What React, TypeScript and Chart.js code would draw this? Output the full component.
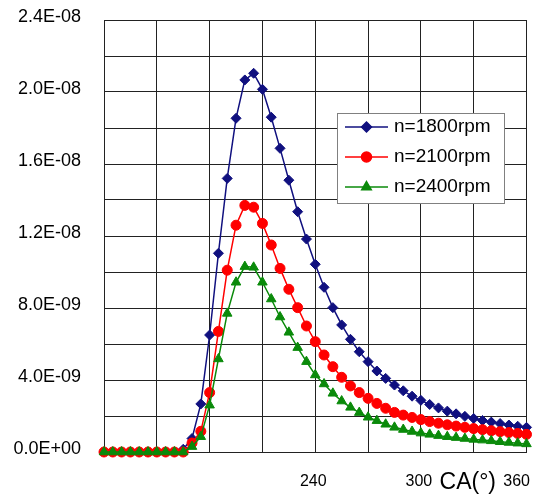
import React, { useEffect, useRef } from 'react';
import { Chart, registerables } from 'chart.js';
import { drawPoint } from 'chart.js/helpers';

Chart.register(...registerables);

// Crank angle (deg)
const crankAngles = [
  120, 125, 130, 135, 140, 145, 150, 155, 160, 165,
  170, 175, 180, 185, 190, 195, 200, 205, 210, 215,
  220, 225, 230, 235, 240, 245, 250, 255, 260, 265,
  270, 275, 280, 285, 290, 295, 300, 305, 310, 315,
  320, 325, 330, 335, 340, 345, 350, 355, 360,
];

// Values in units of 1E-09
const rpm1800 = [
  0, 0, 0, 0, 0, 0, 0, 0, 0, 0.15,
  0.75, 2.67, 6.5, 11.04, 15.2, 18.54, 20.67, 21.04, 20.15, 18.6,
  16.87, 15.1, 13.35, 11.83, 10.43, 9.15, 8.02, 7.06, 6.26, 5.57,
  5.02, 4.5, 4.09, 3.72, 3.4, 3.1, 2.87, 2.64, 2.45, 2.27,
  2.12, 1.98, 1.86, 1.75, 1.66, 1.58, 1.5, 1.43, 1.37,
];
const rpm2100 = [
  0, 0, 0, 0, 0, 0, 0, 0, 0, 0,
  0.5, 1.15, 3.3, 6.7, 10.1, 12.6, 13.7, 13.6, 12.7, 11.5,
  10.2, 9.04, 8.02, 7.0, 6.13, 5.39, 4.74, 4.15, 3.67, 3.3,
  2.98, 2.7, 2.43, 2.2, 2.05, 1.92, 1.8, 1.69, 1.6, 1.51,
  1.44, 1.37, 1.3, 1.24, 1.18, 1.13, 1.08, 1.03, 0.98,
];
const rpm2400 = [
  0, 0, 0, 0, 0, 0, 0, 0, 0, 0,
  0.3, 0.85, 2.6, 5.17, 7.7, 9.43, 10.3, 10.26, 9.43, 8.5,
  7.5, 6.65, 5.8, 5.02, 4.28, 3.78, 3.26, 2.83, 2.48, 2.19,
  1.93, 1.74, 1.54, 1.37, 1.25, 1.14, 1.05, 0.98, 0.91, 0.85,
  0.8, 0.75, 0.7, 0.66, 0.62, 0.57, 0.53, 0.49, 0.45,
];

const seriesLabels = ['n=1800rpm', 'n=2100rpm', 'n=2400rpm'];
const seriesColors = ['#10107f', '#ff0000', '#0a8a0a'];
const seriesPointStyles = ['rectRot', 'circle', 'triangle'];
const seriesPointRadius = [5, 5, 5.5];

const yTickLabels = ['0.0E+00', '4.0E-09', '8.0E-09', '1.2E-08', '1.6E-08', '2.0E-08', '2.4E-08'];
const xTickLabels = [240, 300, 360];
const xAxisTitle = 'CA(°)';

const FONT = '"Liberation Sans", Arial, sans-serif';

const xLabelsPlugin = {
  id: 'xLabels',
  afterDraw(chart: any) {
    const ctx = chart.ctx;
    const xs = chart.scales.x;
    const y = 482;
    ctx.save();
    ctx.fillStyle = '#000';
    ctx.textBaseline = 'middle';
    ctx.font = `16px ${FONT}`;
    const boxes: { l: number; r: number }[] = [];
    xTickLabels.forEach((v) => {
      const t = String(v);
      const w = ctx.measureText(t).width;
      const cx = xs.getPixelForValue(v) - 2;
      let l = cx - w / 2;
      if (l + w > chart.width - 3) l = chart.width - 3 - w;
      ctx.textAlign = 'left';
      ctx.fillText(t, l, y);
      boxes.push({ l, r: l + w });
    });
    const a = boxes[boxes.length - 2];
    const b = boxes[boxes.length - 1];
    ctx.font = `23px ${FONT}`;
    ctx.textAlign = 'center';
    ctx.fillText(xAxisTitle, (a.r + b.l) / 2, y + 1);
    ctx.restore();
  },
};

const legendPlugin = {
  id: 'boxLegend',
  afterDraw(chart: any) {
    const ctx = chart.ctx;
    const left = 337, top = 113, w = 167, h = 90;
    ctx.save();
    ctx.fillStyle = '#fff';
    ctx.fillRect(left, top, w, h);
    ctx.strokeStyle = '#808080';
    ctx.lineWidth = 1;
    ctx.strokeRect(left + 0.5, top + 0.5, w, h);
    chart.data.datasets.forEach((ds: any, i: number) => {
      const cy = top + 14 + i * 30;
      ctx.strokeStyle = ds.borderColor;
      ctx.lineWidth = 1.5;
      ctx.beginPath();
      ctx.moveTo(left + 8, cy);
      ctx.lineTo(left + 51, cy);
      ctx.stroke();
      ctx.fillStyle = ds.backgroundColor;
      drawPoint(ctx, { pointStyle: ds.pointStyle, radius: ds.pointRadius, rotation: 0, borderWidth: 1 }, left + 29.5, cy);
      ctx.fillStyle = '#000';
      ctx.font = `19px ${FONT}`;
      ctx.textAlign = 'left';
      ctx.textBaseline = 'middle';
      ctx.fillText(ds.label, left + 57, cy);
    });
    ctx.restore();
  },
};

export default function App() {
  const canvasRef = useRef<HTMLCanvasElement>(null);

  useEffect(() => {
    if (!canvasRef.current) return;
    const seriesValues = [rpm1800, rpm2100, rpm2400];
    const datasets = seriesValues.map((vals, i) => ({
      label: seriesLabels[i],
      data: crankAngles.map((x, j) => ({ x, y: vals[j] })),
      borderColor: seriesColors[i],
      backgroundColor: seriesColors[i],
      borderWidth: 1.5,
      pointStyle: seriesPointStyles[i],
      pointRadius: seriesPointRadius[i],
      pointBorderWidth: 1,
      tension: 0,
      clip: 12,
      order: 2 - i,
    }));

    const chart = new Chart(canvasRef.current, {
      type: 'line',
      data: { datasets },
      options: {
        animation: false,
        responsive: false,
        devicePixelRatio: 1,
        layout: { padding: { top: 20, right: 3, left: 0, bottom: 0 } },
        plugins: {
          legend: { display: false },
          tooltip: { enabled: false },
        },
        scales: {
          x: {
            type: 'linear',
            min: 120,
            max: 360,
            ticks: { stepSize: 30, display: false },
            grid: { color: '#222', lineWidth: 1, drawTicks: false },
            border: { color: '#222', width: 1 },
            afterFit: (s: any) => {
              s.height = 45;
              s.paddingLeft = 0;
              s.paddingRight = 0;
            },
          },
          y: {
            min: 0,
            max: 24,
            ticks: {
              stepSize: 2,
              padding: 23,
              color: '#000',
              labelOffset: -3,
              font: { family: FONT, size: 18 },
              callback: (_v: any, idx: number) => (idx % 2 === 0 ? yTickLabels[idx / 2] : ''),
            },
            grid: { color: '#222', lineWidth: 1, drawTicks: false },
            border: { color: '#222', width: 1 },
            afterFit: (s: any) => {
              s.width = 104;
              s.paddingTop = 0;
              s.paddingBottom = 0;
            },
          },
        },
      },
      plugins: [xLabelsPlugin, legendPlugin],
    } as any);
    return () => chart.destroy();
  }, []);

  return (
    <div style={{ position: 'fixed', left: 0, top: 0, width: 533, height: 497, background: '#fff' }}>
      <canvas ref={canvasRef} width={533} height={497} style={{ width: 533, height: 497 }} />
    </div>
  );
}
